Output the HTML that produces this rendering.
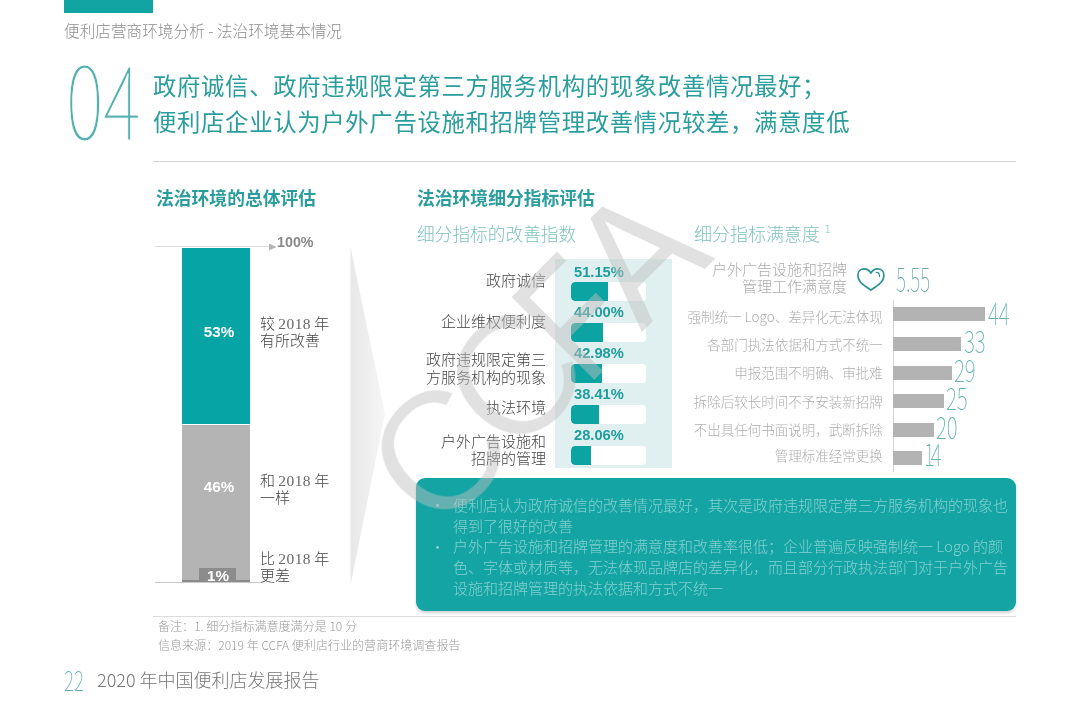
<!DOCTYPE html>
<html lang="zh-CN">
<head>
<meta charset="utf-8">
<title>2020 年中国便利店发展报告</title>
<style>
*{margin:0;padding:0;box-sizing:border-box}
html,body{width:1080px;height:722px;background:#fff;overflow:hidden}
body{position:relative;font-family:"Liberation Sans","Noto Sans CJK SC",sans-serif;color:#555}
.abs{position:absolute;white-space:nowrap}
.cjk{font-family:"Noto Sans CJK SC","Liberation Sans",sans-serif}
.thin{font-family:"Noto Sans CJK SC","Liberation Sans",sans-serif;font-weight:100;color:#3fb0b0;transform-origin:0 50%}
.teal{color:#2a9d9d}
.lbl{font-family:"Noto Sans CJK SC","Liberation Sans",sans-serif;font-weight:300;font-size:15px;line-height:17px;color:#444}
.r{text-align:right}

.pc{left:574px;font-size:14.7px;line-height:18px;font-weight:700;color:#1f9e9e}
.tr{left:571px;width:74.5px;height:18.8px;background:#fff;border-radius:4px;overflow:hidden}
.tr i{display:block;height:100%;background:#0ca3a3;border-radius:4px 0 0 4px}
.rl{left:638.7px;width:244px;text-align:right;font-family:"Noto Sans CJK SC","Liberation Sans",sans-serif;font-weight:200;font-size:13.5px;line-height:16px;color:#aeaeae}
.rb{left:893px;height:14px;background:#b3b3b3}
.rn{font-size:30.5px;line-height:38px;transform:scaleX(.68);margin-top:-2.3px;color:#62b3b1}
.co{font-size:15px;line-height:20.7px;font-weight:300;color:rgba(255,255,255,.47)}
.ft{font-size:12.05px;line-height:18px;margin-top:-1px;font-weight:300;color:#9a9a9a}
#wm span{position:absolute;bottom:-26.1px;height:170px;transform-origin:0 0;white-space:nowrap}
.sf{font-family:"Liberation Serif",serif;font-weight:400;letter-spacing:.4px;font-size:15.5px;line-height:1px;color:#686868}
</style>
</head>
<body>
<!-- top tab -->
<div class="abs" style="left:64px;top:0;width:89px;height:12.5px;background:#12a3a3"></div>
<div class="abs cjk" id="hdr" style="left:64px;top:18.5px;font-size:15.65px;line-height:24px;font-weight:200;color:#8e8e8e">便利店营商环境分析 - 法治环境基本情况</div>

<!-- big number -->
<div class="abs thin" id="n04" style="left:66px;top:34px;font-size:101px;line-height:124px;transform:scaleX(.71);color:#56b0b0;-webkit-text-stroke:.8px #fff">04</div>

<!-- title -->
<div class="abs cjk teal" id="t1" style="left:153px;top:66.5px;font-size:23.4px;letter-spacing:.65px;line-height:36px;font-weight:400">政府诚信、政府违规限定第三方服务机构的现象改善情况最好；</div>
<div class="abs cjk teal" id="t2" style="left:153px;top:103px;font-size:23.4px;letter-spacing:.65px;line-height:36px;font-weight:400">便利店企业认为户外广告设施和招牌管理改善情况较差，满意度低</div>
<div class="abs" style="left:153px;top:160.5px;width:863px;height:1px;background:#d2d2d2"></div>

<!-- wedge -->
<svg class="abs" style="left:350px;top:247px" width="38" height="340" viewBox="0 0 38 340">
<defs><linearGradient id="wg" x1="0" x2="1" y1="0" y2="0"><stop offset="0" stop-color="#e7e7e7"/><stop offset="1" stop-color="#f6f6f6"/></linearGradient></defs>
<polygon points="0.5,0 35,167 0.5,338" fill="url(#wg)"/>
</svg>

<!-- left chart -->
<div class="abs cjk teal" id="s1" style="left:156px;top:185px;font-size:17.8px;line-height:24px;font-weight:700">法治环境的总体评估</div>
<div class="abs" style="left:155px;top:245.5px;width:115px;height:1px;background:#dcdcdc"></div>
<svg class="abs" style="left:268px;top:242px" width="10" height="10" viewBox="0 0 10 10"><polygon points="1,1.5 8.5,5 1,8.5" fill="#b4b4b4"/></svg>
<div class="abs" id="p100" style="left:277px;top:234px;font-size:14.3px;line-height:16px;font-weight:700;color:#8a8a8a">100%</div>
<div class="abs" style="left:182px;top:248px;width:68px;height:176px;background:#06a4a4"></div>
<div class="abs" style="left:182px;top:425px;width:68px;height:155px;background:#b4b4b4"></div>
<div class="abs" style="left:182px;top:580px;width:68px;height:3px;background:#8c8c8c"></div>
<div class="abs" style="left:199px;top:568px;width:37px;height:13px;background:#8c8c8c"></div>
<div class="abs" style="left:155px;top:582px;width:106px;height:1px;background:#c8c8c8"></div>
<div class="abs" id="p53" style="left:185px;top:323px;width:68px;text-align:center;font-size:15.2px;line-height:17px;font-weight:700;color:#fff">53%</div>
<div class="abs" id="p46" style="left:185px;top:477.5px;width:68px;text-align:center;font-size:15.2px;line-height:17px;font-weight:700;color:#fff">46%</div>
<div class="abs" id="p1" style="left:199.5px;top:566.5px;width:37px;text-align:center;font-size:15.2px;line-height:17px;font-weight:700;color:#fff">1%</div>
<div class="abs lbl" id="l1" style="left:260px;top:313.6px">较 <span class="sf">2018</span> 年<br>有所改善</div>
<div class="abs lbl" id="l2" style="left:260px;top:471.2px">和 <span class="sf">2018</span> 年<br>一样</div>
<div class="abs lbl" id="l3" style="left:260px;top:549.2px">比 <span class="sf">2018</span> 年<br>更差</div>

<!-- middle chart -->
<div class="abs cjk teal" id="s2" style="left:417px;top:185px;font-size:17.8px;line-height:24px;font-weight:700">法治环境细分指标评估</div>
<div class="abs cjk" id="s3" style="left:417px;top:221px;font-size:17.7px;line-height:24px;font-weight:200;color:#7fc2c0">细分指标的改善指数</div>
<div class="abs" style="left:555px;top:258.5px;width:116.5px;height:209px;background:#e0efef"></div>

<div class="abs lbl r" style="left:396px;width:150px;top:271.3px">政府诚信</div>
<div class="abs lbl r" style="left:396px;width:150px;top:312.3px">企业维权便利度</div>
<div class="abs lbl r" style="left:396px;width:150px;top:350.3px;line-height:17.6px">政府违规限定第三<br>方服务机构的现象</div>
<div class="abs lbl r" style="left:396px;width:150px;top:398.3px">执法环境</div>
<div class="abs lbl r" style="left:396px;width:150px;top:433px;line-height:16.5px">户外广告设施和<br>招牌的管理</div>

<div class="abs pc" style="top:262.5px">51.15%</div>
<div class="abs tr" style="top:282.4px"><i style="width:37.3px"></i></div>
<div class="abs pc" style="top:303.4px">44.00%</div>
<div class="abs tr" style="top:323.3px"><i style="width:32px"></i></div>
<div class="abs pc" style="top:344.3px">42.98%</div>
<div class="abs tr" style="top:364.2px"><i style="width:31.3px"></i></div>
<div class="abs pc" style="top:385.2px">38.41%</div>
<div class="abs tr" style="top:405.1px"><i style="width:27.5px"></i></div>
<div class="abs pc" style="top:426.1px">28.06%</div>
<div class="abs tr" style="top:446.0px"><i style="width:19.5px"></i></div>

<!-- right chart -->
<div class="abs cjk" id="s4" style="left:694px;top:221px;font-size:18px;line-height:24px;font-weight:200;color:#7fc2c0">细分指标满意度<span style="font-size:10px;position:relative;top:-8px;left:5px">1</span></div>
<div class="abs lbl r" id="rl0" style="left:690px;width:157px;top:261px;line-height:16.5px;color:#adadad;font-weight:200">户外广告设施和招牌<br>管理工作满意度</div>
<svg class="abs" style="left:856px;top:266px" width="30" height="26" viewBox="0 0 30 26"><path d="M14.9 24.1 C12.3 22 6.6 19.2 3.9 15.2 C2.4 13  1.9 11 1.9 9.2 C1.9 5.5 4.6 2.9 8.2 2.9 C11 2.9 13.6 4.6 14.9 7.2 C16.2 4.6 18.8 2.9 21.6 2.9 C25.2 2.9 27.9 5.5 27.9 9.2 C27.9 11 27.4 13 25.9 15.2 C23.2 19.2 17.5 22 14.9 24.1 Z" fill="none" stroke="#2b9292" stroke-width="1.7" stroke-linejoin="round"/><path d="M20.4 6.4 C22.7 6.4 23.7 8 23.6 10.6" fill="none" stroke="#2b9292" stroke-width="1.2" stroke-linecap="round"/></svg>
<div class="abs thin" id="n555" style="left:895.5px;top:258.5px;font-size:32.5px;line-height:38px;transform:scaleX(.585);color:#6fabab">5.55</div>

<div class="abs" style="left:892.5px;top:300px;width:1px;height:172px;background:#d4d4d4"></div>
<div class="abs rl" style="top:308px">强制统一 Logo、差异化无法体现</div>
<div class="abs rl" style="top:336px">各部门执法依据和方式不统一</div>
<div class="abs rl" style="top:364px">申报范围不明确、审批难</div>
<div class="abs rl" style="top:393px">拆除后较长时间不予安装新招牌</div>
<div class="abs rl" style="top:421px">不出具任何书面说明，武断拆除</div>
<div class="abs rl" style="top:447px">管理标准经常更换</div>
<div class="abs rb" style="top:307px;width:92px"></div>
<div class="abs rb" style="top:336.5px;width:68px"></div>
<div class="abs rb" style="top:365.5px;width:59px"></div>
<div class="abs rb" style="top:394px;width:51px"></div>
<div class="abs rb" style="top:422.5px;width:41px"></div>
<div class="abs rb" style="top:450.5px;width:29px"></div>
<div class="abs thin rn" style="left:988px;top:295px">44</div>
<div class="abs thin rn" style="left:964px;top:323px">33</div>
<div class="abs thin rn" style="left:954px;top:352.5px">29</div>
<div class="abs thin rn" style="left:946px;top:380px">25</div>
<div class="abs thin rn" style="left:936px;top:409px">20</div>
<div class="abs thin rn" style="left:924px;top:436px;letter-spacing:-6px">14</div>

<!-- callout -->
<div class="abs" style="left:416px;top:478px;width:600px;height:133px;background:#14a4a4;border-radius:9px;box-shadow:0 2px 3px rgba(0,0,0,.18)"></div>
<div class="abs cjk co" style="left:430px;top:495px">·</div>
<div class="abs cjk co" style="left:430px;top:536.5px">·</div>
<div class="abs cjk co" id="co" style="left:453px;top:495px;white-space:normal;width:560px">便利店认为政府诚信的改善情况最好，其次是政府违规限定第三方服务机构的现象也<br>得到了很好的改善<br>户外广告设施和招牌管理的满意度和改善率很低；企业普遍反映强制统一 Logo 的颜<br>色、字体或材质等，无法体现品牌店的差异化，而且部分行政执法部门对于户外广告<br>设施和招牌管理的执法依据和方式不统一</div>

<!-- footer -->
<div class="abs" style="left:153px;top:616px;width:863px;height:1px;background:#dcdcdc"></div>
<div class="abs cjk ft" style="left:158px;top:618px">备注：1. 细分指标满意度满分是 10 分</div>
<div class="abs cjk ft" style="left:158px;top:637px">信息来源：2019 年 CCFA 便利店行业的营商环境调查报告</div>
<div class="abs thin" id="pg" style="left:63.5px;top:661px;font-size:27.5px;line-height:36px;transform:scaleX(.69);color:#5ab4b6">22</div>
<div class="abs cjk" id="rep" style="left:97px;top:666.3px;font-size:18px;line-height:26px;font-weight:300;color:#767676">2020 年中国便利店发展报告</div>

<!-- watermark -->
<svg width="0" height="0" style="position:absolute"><defs><filter id="thin" x="-5%" y="-5%" width="110%" height="110%"><feMorphology operator="erode" radius="1"/></filter></defs></svg>
<div class="abs" id="wm" style="left:486.5px;top:486.5px;width:0;height:0;transform:rotate(-45deg);transform-origin:0 0;font-size:170px;line-height:1;color:rgba(192,192,192,.47);font-family:'Liberation Sans',sans-serif"><span style="left:-71.6px;transform:scaleX(1);filter:url(#thin)">C</span><span style="left:35px;transform:scaleX(1);filter:url(#thin)">C</span><span style="left:141.0px;transform:scaleX(0.77)">F</span><span style="left:218.7px;transform:scaleX(0.923)">A</span></div>
</body>
</html>
